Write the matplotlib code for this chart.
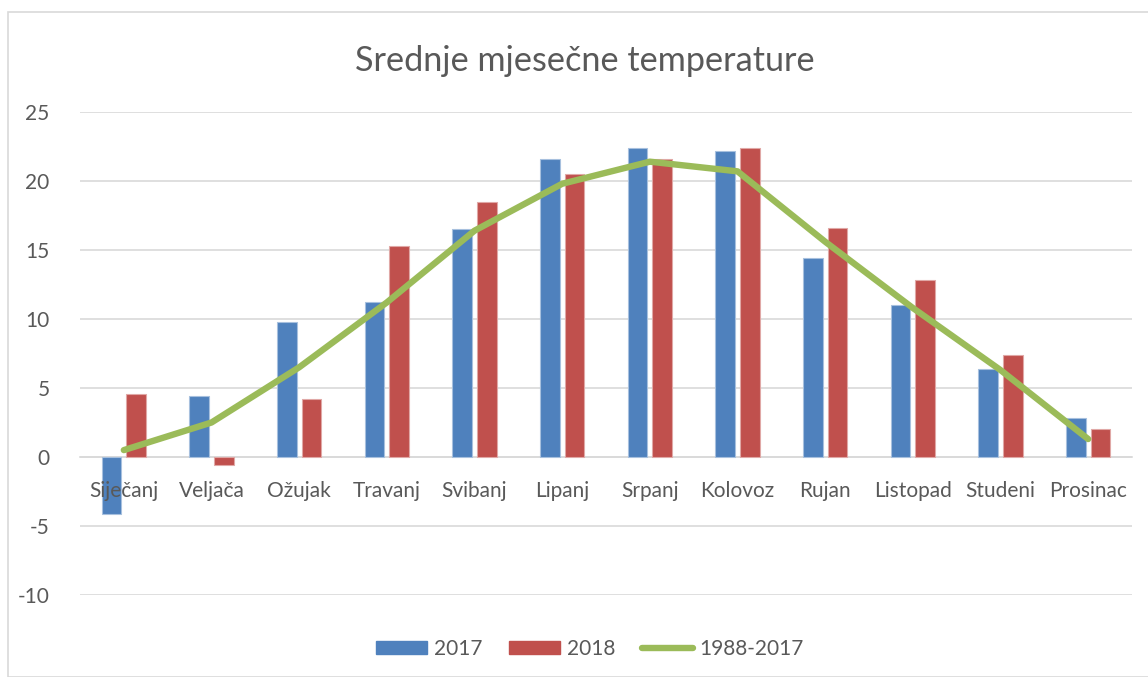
import matplotlib
matplotlib.use("Agg")
import matplotlib.pyplot as plt
import numpy as np
from matplotlib.patches import Patch, Rectangle
from matplotlib.lines import Line2D

months = ["Siječanj", "Veljača", "Ožujak", "Travanj", "Svibanj", "Lipanj",
          "Srpanj", "Kolovoz", "Rujan", "Listopad", "Studeni", "Prosinac"]
t2017 = [-4.1, 4.4, 9.8, 11.2, 16.5, 21.6, 22.4, 22.2, 14.4, 11.0, 6.4, 2.8]
t2018 = [4.6, -0.6, 4.2, 15.3, 18.5, 20.5, 21.6, 22.4, 16.6, 12.8, 7.4, 2.0]
avg = [0.5, 2.5, 6.5, 11.2, 16.4, 19.8, 21.4, 20.7, 15.6, 10.8, 6.3, 1.3]
yticks = [-10, -5, 0, 5, 10, 15, 20, 25]

blue = "#4F81BD"
red = "#C0504D"
green = "#9BBB59"
txt = "#595959"
grid = "#D9D9D9"

plt.rcParams['font.family'] = ['Lato', 'DejaVu Sans']

W, H = 1148, 677
fig = plt.figure(figsize=(W / 100, H / 100), dpi=100)

# chart frame
fig.patches.append(Rectangle((8 / W, 0), 1.2, 1 - 12 / H, transform=fig.transFigure,
                             fill=False, edgecolor=grid, lw=1.2))

ax = fig.add_axes([80 / W, 1 - 595 / H, 1052 / W, (595 - 112) / H])
ax.set_axisbelow(False)
x = np.arange(len(months))
bw = 0.225
off = 0.14
ax.bar(x - off, t2017, bw, color=blue, edgecolor="#A7C0DE", lw=0.8, zorder=2)
ax.bar(x + off, t2018, bw, color=red, edgecolor="#E0A8A6", lw=0.8, zorder=2)
ax.plot(x, avg, color=green, lw=4.6, solid_capstyle="round", solid_joinstyle="round", zorder=3)

ax.set_xlim(-0.5, len(months) - 0.5)
ax.set_ylim(-10, 25)
ax.set_yticks(yticks)
ax.set_yticklabels([str(v) for v in yticks])
for v in yticks:
    ax.axhline(v, color=grid, lw=1.2, zorder=1)

for s in ["top", "right", "left"]:
    ax.spines[s].set_visible(False)
ax.spines["bottom"].set_position(("data", 0))
ax.spines["bottom"].set_color(grid)
ax.spines["bottom"].set_linewidth(1.2)
ax.spines["bottom"].set_zorder(1)

ax.set_xticks(x)
ax.set_xticklabels(months)
ax.tick_params(axis="x", length=0, pad=17, labelsize=15, colors=txt)
ax.tick_params(axis="y", length=0, pad=22, labelsize=15, colors=txt)

fig.text(585 / W, 1 - 61 / H, "Srednje mjesečne temperature", ha="center", va="center",
         fontsize=24.7, color=txt)

handles = [Patch(facecolor=blue, edgecolor=blue),
           Patch(facecolor=red, edgecolor=red),
           Line2D([0], [0], color=green, lw=4.6, solid_capstyle="round")]
leg = fig.legend(handles, ["2017", "2018", "1988-2017"], loc="center",
                 bbox_to_anchor=(590 / W, 1 - 649 / H), ncol=3, frameon=False,
                 fontsize=15, handlelength=2.45, handleheight=0.6, handletextpad=0.3,
                 columnspacing=1.3, labelcolor=txt)

fig.savefig("out.png", dpi=100)
